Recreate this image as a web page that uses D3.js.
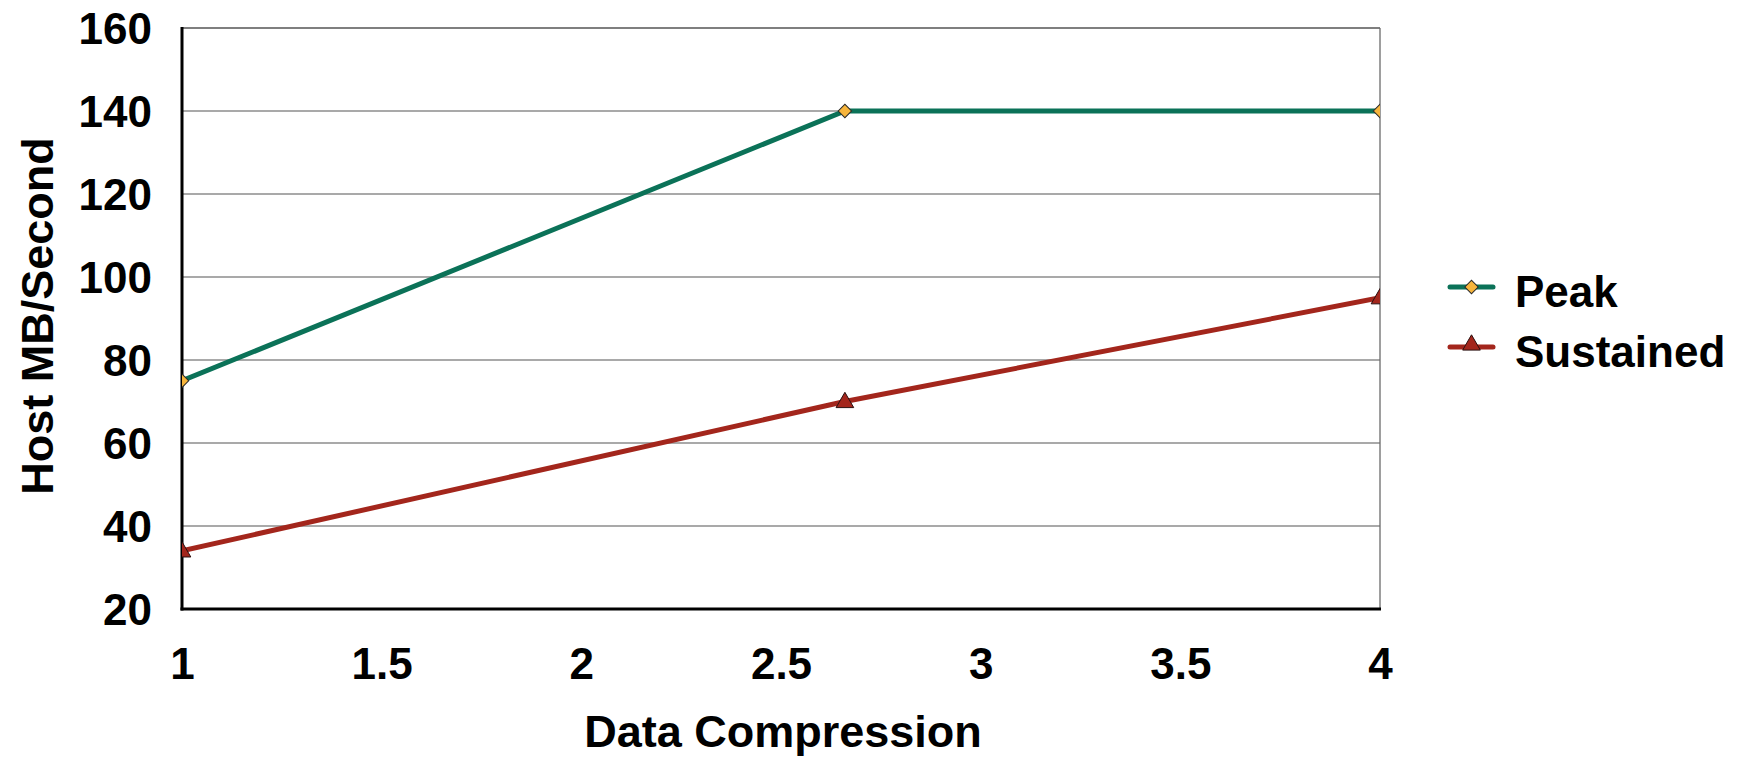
<!DOCTYPE html>
<html><head><meta charset="utf-8">
<script src="https://cdn.jsdelivr.net/npm/d3@7"></script>
<style>
html,body{margin:0;padding:0;background:#fff;}
text{font-family:"Liberation Sans",Arial,sans-serif;font-weight:bold;fill:#000;}
</style></head>
<body><svg id="c" width="1744" height="759"></svg>
<script>
const xValues = [1, 2.66, 4];
const peakValues = [75, 140, 140];
const sustainedValues = [34, 70, 95];
const seriesNames = ["Peak", "Sustained"];
const xTicks = [1, 1.5, 2, 2.5, 3, 3.5, 4];
const yTicks = [20, 40, 60, 80, 100, 120, 140, 160];
const xTitle = "Data Compression";
const yTitle = "Host MB/Second";

const svg = d3.select("#c");
const L = 182, R = 1380, T = 28, B = 609;
const x = d3.scaleLinear().domain([1, 4]).range([L, R]);
const y = d3.scaleLinear().domain([20, 160]).range([B, T]);
const FS = 44, TFS = 45;

// gridlines
svg.append("g").selectAll("line").data(yTicks.filter(d => d > 20)).join("line")
  .attr("x1", L).attr("x2", R).attr("y1", d => y(d)).attr("y2", d => y(d))
  .attr("stroke", d => d === 160 ? "#000" : "#555").attr("stroke-width", 1.2);
// right border
svg.append("line").attr("x1", R).attr("x2", R).attr("y1", T).attr("y2", B)
  .attr("stroke", "#6a6a6a").attr("stroke-width", 1.3);

// y axis
const yAxis = d3.axisLeft(y).tickValues(yTicks).tickSize(0).tickPadding(30).tickFormat(d3.format("d"));
const gy = svg.append("g").attr("transform", `translate(${L},0)`).call(yAxis);
gy.select(".domain").remove();
gy.selectAll("text").style("font-size", FS + "px").attr("dy", "0.36em");

// x axis
const xAxis = d3.axisBottom(x).tickValues(xTicks).tickSize(0).tickPadding(39).tickFormat(d => String(d));
const gx = svg.append("g").attr("transform", `translate(0,${B})`).call(xAxis);
gx.select(".domain").remove();
gx.selectAll("text").style("font-size", FS + "px").attr("dy", "0.71em");

// axis lines
svg.append("line").attr("x1", L).attr("x2", L).attr("y1", T - 1).attr("y2", B + 1.5)
  .attr("stroke", "#000").attr("stroke-width", 3);
svg.append("line").attr("x1", L - 1.5).attr("x2", R + 1).attr("y1", B).attr("y2", B)
  .attr("stroke", "#000").attr("stroke-width", 3);

// clip
svg.append("clipPath").attr("id", "clip").append("rect")
  .attr("x", L).attr("y", T - 10).attr("width", R - L).attr("height", B - T + 10);

const peakColor = "#0b7258", sustColor = "#a3261c";
const line = d3.line().x(d => x(d[0])).y(d => y(d[1]));
const peakData = xValues.map((v, i) => [v, peakValues[i]]);
const sustData = xValues.map((v, i) => [v, sustainedValues[i]]);

const plot = svg.append("g").attr("clip-path", "url(#clip)");
plot.append("path").datum(sustData).attr("d", line).attr("fill", "none")
  .attr("stroke", sustColor).attr("stroke-width", 5);
plot.append("path").datum(peakData).attr("d", line).attr("fill", "none")
  .attr("stroke", peakColor).attr("stroke-width", 5);

const diamond = d3.symbol().type(d3.symbolSquare).size(90);
const tri = d3.symbol().type(d3.symbolTriangle).size(135);
plot.selectAll(".dm").data(peakData).join("path")
  .attr("d", diamond).attr("transform", d => `translate(${x(d[0])},${y(d[1])}) rotate(45)`)
  .attr("fill", "#f7b53c").attr("stroke", "#2a2a2a").attr("stroke-width", 1);
plot.selectAll(".tr").data(sustData).join("path")
  .attr("d", tri).attr("transform", d => `translate(${x(d[0])},${y(d[1]) + 1})`)
  .attr("fill", sustColor).attr("stroke", "#2a1010").attr("stroke-width", 1);

// titles
svg.append("text").attr("x", (L + R) / 2 + 2).attr("y", 747).attr("text-anchor", "middle")
  .style("font-size", TFS + "px").text(xTitle);
svg.append("text").attr("transform", `translate(53,316) rotate(-90)`).attr("text-anchor", "middle")
  .style("font-size", TFS + "px").text(yTitle);

// legend
const legY = [287, 347];
const legColors = [peakColor, sustColor];
const lg = svg.append("g");
seriesNames.forEach((name, i) => {
  lg.append("line").attr("x1", 1450).attr("x2", 1493).attr("y1", legY[i]).attr("y2", legY[i])
    .attr("stroke", legColors[i]).attr("stroke-width", 5).attr("stroke-linecap", "round");
  if (i === 0) {
    lg.append("path").attr("d", diamond).attr("transform", `translate(1471.5,${legY[i]}) rotate(45)`)
      .attr("fill", "#f7b53c").attr("stroke", "#2a2a2a").attr("stroke-width", 1);
  } else {
    lg.append("path").attr("d", tri).attr("transform", `translate(1471.5,${legY[i] - 2})`)
      .attr("fill", sustColor).attr("stroke", "#2a1010").attr("stroke-width", 1);
  }
  lg.append("text").attr("x", 1515).attr("y", legY[i] + 20).style("font-size", FS + "px").text(name);
});
</script></body></html>
